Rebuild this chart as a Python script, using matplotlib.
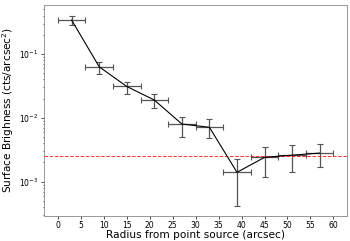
import matplotlib
matplotlib.use("Agg")
import matplotlib.pyplot as plt

radius = [3, 9, 15, 21, 27, 33, 39, 45, 51, 57]
radius_err = [3, 3, 3, 3, 3, 3, 3, 3, 3, 3]
brightness = [0.34, 0.063, 0.031, 0.019, 0.0080, 0.0071, 0.0014, 0.0024, 0.0026, 0.0028]
err_hi = [0.40, 0.075, 0.037, 0.024, 0.0104, 0.0095, 0.0023, 0.0035, 0.0037, 0.0039]
err_lo = [0.29, 0.049, 0.024, 0.014, 0.0050, 0.0048, 0.00041, 0.0012, 0.0014, 0.0017]
background = 0.0025

yerr = [[b - l for b, l in zip(brightness, err_lo)],
        [h - b for b, h in zip(brightness, err_hi)]]

fig = plt.figure(figsize=(3.5, 2.41), dpi=100)
ax = fig.add_axes([0.126, 0.104, 0.866, 0.876])
ax.errorbar(radius, brightness, xerr=radius_err, yerr=yerr, color='black',
            ecolor='#555555', elinewidth=0.9, capsize=2.5, capthick=0.8, lw=0.8)
ax.axhline(background, color='red', ls='--', lw=0.7, alpha=0.8)
ax.set_yscale('log')
ax.set_xlim(-3, 63)
ax.set_ylim(2.9e-4, 0.59)
ax.set_xticks(range(0, 61, 5))
ax.tick_params(labelsize=5.5, length=2, width=0.5, which='both', pad=2)
ax.tick_params(which='minor', length=1)
for s in ax.spines.values():
    s.set_linewidth(0.6)
    s.set_color('#888888')
ax.set_xlabel('Radius from point source (arcsec)', fontsize=7.6, labelpad=-0.5)
ax.set_ylabel('Surface Brighness (cts/arcsec$^2$)', fontsize=7.6, labelpad=2)
fig.savefig('out.png', dpi=100)
